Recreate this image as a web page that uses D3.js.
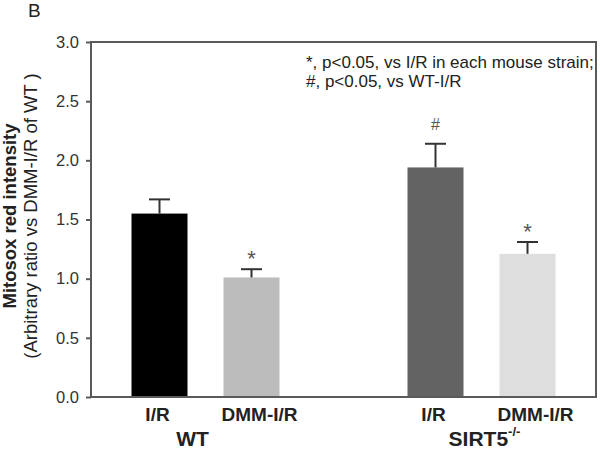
<!DOCTYPE html>
<html><head><meta charset="utf-8">
<script src="https://cdn.jsdelivr.net/npm/d3@7"></script>
<style>body{margin:0;background:#fff}svg{display:block;font-family:"Liberation Sans",Arial,sans-serif}</style>
</head><body><svg id="c" width="600" height="451"></svg>
<script>
const categories = ["WT I/R","WT DMM-I/R","SIRT5 I/R","SIRT5 DMM-I/R"];
const barLabels = ["I/R","DMM-I/R","I/R","DMM-I/R"];
const groups = ["WT","SIRT5"];
const values = [1.55, 1.01, 1.94, 1.21];
const errors = [0.12, 0.07, 0.20, 0.10];
const marks = ["", "*", "#", "*"];
const colors = ["#000000","#bcbcbc","#636363","#dedede"];
const yTicks = [0, 0.5, 1.0, 1.5, 2.0, 2.5, 3.0];

const svg = d3.select("#c");
const L = 91, R = 596, T = 42, B = 397;
// slots along x: two bars per group with one empty slot between groups
const slots = ["WT I/R","WT DMM-I/R","gap","SIRT5 I/R","SIRT5 DMM-I/R"];
const x = d3.scalePoint().domain(slots).range([159.5, 527.5]);
const xc = d => x(d);
const y = d3.scaleLinear().domain([0,3]).range([B,T]);
const bw = 56;

// bars
svg.selectAll("rect.bar").data(categories).enter().append("rect")
  .attr("x", d => xc(d)-bw/2).attr("width", bw)
  .attr("y", (d,i) => y(values[i])).attr("height", (d,i) => B - y(values[i]))
  .attr("fill", (d,i) => colors[i]);

// error bars
const eg = svg.append("g").attr("stroke","#333").attr("stroke-width",2);
categories.forEach((d,i) => {
  eg.append("line").attr("x1",xc(d)).attr("x2",xc(d)).attr("y1",y(values[i])).attr("y2",y(values[i]+errors[i]));
  eg.append("line").attr("x1",xc(d)-10.5).attr("x2",xc(d)+10.5).attr("y1",y(values[i]+errors[i])).attr("y2",y(values[i]+errors[i]));
});
// significance marks
categories.forEach((d,i) => {
  if (!marks[i]) return;
  const star = marks[i] === "*";
  svg.append("text").attr("x",xc(d)).attr("y",y(values[i]+errors[i]) - (star ? 3 : 14))
    .attr("text-anchor","middle").attr("font-size", star ? 22 : 16).attr("fill","#555").text(marks[i]);
});

// frame
svg.append("path").attr("d",`M${L},${T}H${R}V${B}H${L}Z`).attr("fill","none").attr("stroke","#5a5a5a").attr("stroke-width",2);

// y axis
const ya = svg.append("g").attr("transform",`translate(${L},0)`)
  .call(d3.axisLeft(y).tickValues(yTicks).tickFormat(d3.format(".1f")).tickSize(5).tickPadding(7));
ya.select(".domain").remove();
ya.selectAll("line").attr("stroke","#5a5a5a").attr("stroke-width",2);
ya.selectAll("text").attr("font-size",16.5).attr("fill","#333").attr("font-family","Liberation Sans, Arial, sans-serif");

// y title
svg.append("text").attr("transform","translate(16,216) rotate(-90)").attr("text-anchor","middle")
  .attr("font-size",18.5).attr("font-weight","bold").attr("fill","#222").text("Mitosox red intensity");
svg.append("text").attr("transform","translate(37,216) rotate(-90)").attr("text-anchor","middle")
  .attr("font-size",18.5).attr("fill","#222").text("(Arbitrary ratio vs DMM-I/R of WT )");

// x labels
categories.forEach((d,i) => {
  const dx = barLabels[i].length > 3 ? 8 : -2;
  svg.append("text").attr("x",xc(d)+dx).attr("y",421).attr("text-anchor","middle")
    .attr("font-size",19).attr("font-weight","bold").attr("fill","#222").text(barLabels[i]);
});
svg.append("text").attr("x",(xc(categories[0])+xc(categories[1]))/2 - 13).attr("y",446).attr("text-anchor","middle")
  .attr("font-size",21).attr("font-weight","bold").attr("fill","#222").text(groups[0]);
const s = svg.append("text").attr("x",(xc(categories[2])+xc(categories[3]))/2 + 3).attr("y",446).attr("text-anchor","middle")
  .attr("font-size",21).attr("font-weight","bold").attr("fill","#222");
s.append("tspan").text(groups[1]);
s.append("tspan").attr("dy",-10).attr("font-size",13).text("-/-");

// annotation
svg.append("text").attr("x",306).attr("y",68).attr("font-size",17).attr("fill","#222").text("*, p<0.05, vs I/R in each mouse strain;");
svg.append("text").attr("x",306).attr("y",87).attr("font-size",17).attr("fill","#222").text("#, p<0.05, vs WT-I/R");

// panel letter
svg.append("text").attr("x",28).attr("y",17).attr("font-size",19).attr("fill","#222").text("B");
</script></body></html>
